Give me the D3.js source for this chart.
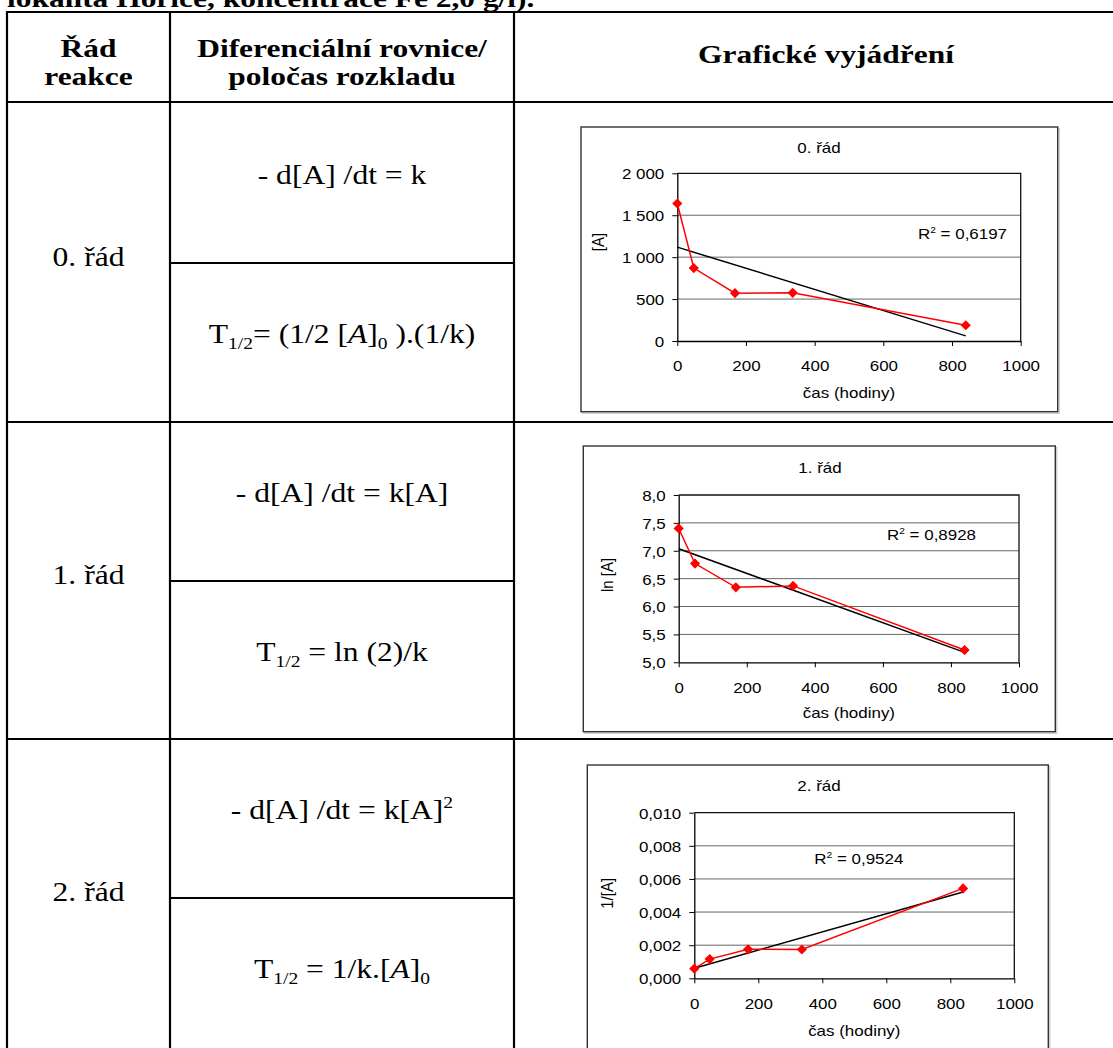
<!DOCTYPE html>
<html>
<head>
<meta charset="utf-8">
<script src="https://cdn.jsdelivr.net/npm/d3@7"></script>
<style>
  html, body { margin: 0; padding: 0; background: #fff; overflow: hidden; }
  text { white-space: pre; }
</style>
</head>
<body>
<svg id="page" width="1113" height="1048"></svg>
<script>
// ---- data -----------------------------------------------------------
const hours = [0, 48, 168, 336, 840];
const concentration = [1640, 870, 570, 575, 188];          // [A]
const lnConcentration = [7.40, 6.77, 6.345, 6.37, 5.22];  // ln [A]
const invConcentration = [0.00058, 0.00116, 0.00175, 0.00174, 0.00543]; // 1/[A]

const xTickValues = [0, 200, 400, 600, 800, 1000];
const xTickLabels = ["0", "200", "400", "600", "800", "1000"];
const yTickValues0 = [0, 500, 1000, 1500, 2000];
const yTickLabels0 = ["0", "500", "1 000", "1 500", "2 000"];
const yTickValues1 = [5.0, 5.5, 6.0, 6.5, 7.0, 7.5, 8.0];
const yTickLabels1 = ["5,0", "5,5", "6,0", "6,5", "7,0", "7,5", "8,0"];
const yTickValues2 = [0, 0.002, 0.004, 0.006, 0.008, 0.010];
const yTickLabels2 = ["0,000", "0,002", "0,004", "0,006", "0,008", "0,010"];

const chartTitles = ["0. řád", "1. řád", "2. řád"];
const yAxisTitles = ["[A]", "ln [A]", "1/[A]"];
const rSquaredValues = ["0,6197", "0,8928", "0,9524"];
const xAxisTitle = "čas (hodiny)";

const orderLabels = ["0. řád", "1. řád", "2. řád"];
const headerLabels = ["Řád", "reakce", "Diferenciální rovnice/", "poločas rozkladu", "Grafické vyjádření"];
const captionTail = "lokalita Hořice, koncentrace Fe 2,0 g/l).";

// ---- page setup --------------------------------------------------------
const svg = d3.select("#page");
const SERIF = "'Liberation Serif', 'Times New Roman', serif";
const SANS = "'Liberation Sans', Arial, sans-serif";
const SX_SERIF = 1.17;   // the document is set slightly wide
const SX_SANS = 1.13;

function wideText(parent, x, y, str, opts) {
  const o = Object.assign({ size: 15, family: SANS, sx: SX_SANS, anchor: "middle", weight: "normal", rotate: 0 }, opts);
  return parent.append("text")
    .attr("transform", `translate(${x},${y}) scale(${o.sx},1)` + (o.rotate ? ` rotate(${o.rotate})` : ""))
    .attr("text-anchor", o.anchor)
    .attr("font-family", o.family)
    .attr("font-size", o.size)
    .attr("font-weight", o.weight)
    .attr("fill", "#000")
    .text(str);
}

// text built from runs (sub/superscripts, italics)
function richText(parent, x, y, runs, size, anchor) {
  const t = parent.append("text")
    .attr("transform", `translate(${x},${y}) scale(${SX_SERIF},1)`)
    .attr("text-anchor", anchor || "middle")
    .attr("font-family", SERIF)
    .attr("font-size", size)
    .attr("fill", "#000");
  let shift = 0;
  runs.forEach(r => {
    const target = r.sub ? size * 0.22 : r.sup ? -size * 0.4 : 0;
    const ts = t.append("tspan").attr("dy", (target - shift).toFixed(2)).text(r.t);
    if (r.sub || r.sup) ts.attr("font-size", (size * 0.62).toFixed(1));
    if (r.it) ts.attr("font-style", "italic");
    shift = target;
  });
  return t;
}

// ---- table grid --------------------------------------------------------
const colX = [7, 170, 514];
const tableTop = 12, headerBottom = 102;
const rowBottoms = [422, 739, 1056];
const rowSplits = [263, 581, 898];
const grid = svg.append("g").attr("stroke", "#000").attr("stroke-width", 2.2);
grid.append("line").attr("x1", colX[0] - 1).attr("x2", 1120).attr("y1", tableTop).attr("y2", tableTop);
grid.append("line").attr("x1", colX[0] - 1).attr("x2", 1120).attr("y1", headerBottom).attr("y2", headerBottom);
rowBottoms.forEach(yb => grid.append("line").attr("x1", colX[0] - 1).attr("x2", 1120).attr("y1", yb).attr("y2", yb));
rowSplits.forEach(ys => grid.append("line").attr("x1", colX[1]).attr("x2", colX[2]).attr("y1", ys).attr("y2", ys));
colX.forEach(xc => grid.append("line").attr("x1", xc).attr("x2", xc).attr("y1", tableTop - 1).attr("y2", 1060));

// caption line running off the top of the page
wideText(svg, 7, 7, captionTail, { family: SERIF, size: 26, sx: 1.21, anchor: "start", weight: "bold" });

// header row
const col1Mid = (colX[0] + colX[1]) / 2, col2Mid = (colX[1] + colX[2]) / 2, col3Mid = 826;
wideText(svg, col1Mid, 57, headerLabels[0], { family: SERIF, size: 26, sx: 1.21, weight: "bold" });
wideText(svg, col1Mid, 85, headerLabels[1], { family: SERIF, size: 26, sx: 1.21, weight: "bold" });
wideText(svg, col2Mid, 57, headerLabels[2], { family: SERIF, size: 26, sx: 1.21, weight: "bold" });
wideText(svg, col2Mid, 85, headerLabels[3], { family: SERIF, size: 26, sx: 1.21, weight: "bold" });
wideText(svg, col3Mid, 63, headerLabels[4], { family: SERIF, size: 26, sx: 1.21, weight: "bold" });

// reaction order labels
orderLabels.forEach((lab, i) => {
  wideText(svg, col1Mid, rowSplits[i] + 3, lab, { family: SERIF, size: 27, sx: SX_SERIF });
});

// rate laws and half-lives
const rateLaws = [
  [{ t: "- d[A] /dt = k" }],
  [{ t: "- d[A] /dt = k[A]" }],
  [{ t: "- d[A] /dt = k[A]" }, { t: "2", sup: true }]
];
const halfLives = [
  [{ t: "T" }, { t: "1/2", sub: true }, { t: "= (1/2 [" }, { t: "A", it: true }, { t: "]" }, { t: "0", sub: true }, { t: " ).(1/k)" }],
  [{ t: "T" }, { t: "1/2", sub: true }, { t: " = ln (2)/k" }],
  [{ t: "T" }, { t: "1/2", sub: true }, { t: " = 1/k.[" }, { t: "A", it: true }, { t: "]" }, { t: "0", sub: true }]
];
rowSplits.forEach((ys, i) => {
  richText(svg, col2Mid, ys - 79, rateLaws[i], 27);
  richText(svg, col2Mid, ys + 80, halfLives[i], 27);
});

// ---- charts ------------------------------------------------------------
const charts = [
  { values: concentration, yDomain: [0, 2000], ticks: yTickValues0, labels: yTickLabels0,
    box: [581, 127, 1057.7, 411.7], plot: [677.3, 173.3, 1020.7, 341],
    title: [819, 148], yTitle: [598, 242], xTitleY: 393, r2: [918, 233.3] },
  { values: lnConcentration, yDomain: [5, 8], ticks: yTickValues1, labels: yTickLabels1,
    box: [583.3, 446, 1055.3, 731.7], plot: [678.7, 495, 1019, 662.3],
    title: [820, 468.3], yTitle: [606.7, 575], xTitleY: 713.3, r2: [887, 535] },
  { values: invConcentration, yDomain: [0, 0.010], ticks: yTickValues2, labels: yTickLabels2,
    box: [587.3, 765, 1048.3, 1068], plot: [694.3, 812.7, 1014.3, 978.3],
    title: [819, 786], yTitle: [606.7, 893.3], xTitleY: 1031.7, r2: [814.3, 858.3] }
];

function linearFit(xs, ys) {
  const mx = d3.mean(xs), my = d3.mean(ys);
  let sxy = 0, sxx = 0;
  xs.forEach((xv, i) => { sxy += (xv - mx) * (ys[i] - my); sxx += (xv - mx) * (xv - mx); });
  const slope = sxy / sxx;
  return { slope, intercept: my - slope * mx };
}

charts.forEach((c, ci) => {
  const g = svg.append("g");
  const [bx0, by0, bx1, by1] = c.box;
  const [px0, py0, px1, py1] = c.plot;

  // chart area
  g.append("rect").attr("x", bx0 + 1.5).attr("y", by0 + 1.5).attr("width", bx1 - bx0).attr("height", by1 - by0)
    .attr("fill", "none").attr("stroke", "#bbb").attr("stroke-width", 1);
  g.append("rect").attr("x", bx0).attr("y", by0).attr("width", bx1 - bx0).attr("height", by1 - by0)
    .attr("fill", "#fff").attr("stroke", "#333").attr("stroke-width", 1.4);

  const x = d3.scaleLinear().domain([0, 1000]).range([px0, px1]);
  const y = d3.scaleLinear().domain(c.yDomain).range([py1, py0]);

  // horizontal gridlines
  g.append("g").selectAll("line").data(c.ticks.slice(1, -1)).join("line")
    .attr("x1", px0).attr("x2", px1).attr("y1", d => y(d)).attr("y2", d => y(d))
    .attr("stroke", "#666").attr("stroke-width", 1);

  // plot frame (top and right)
  g.append("path").attr("d", `M${px0},${py0}H${px1}V${py1}`)
    .attr("fill", "none").attr("stroke", "#111").attr("stroke-width", 1.3);

  // axes
  const yAxis = g.append("g").attr("transform", `translate(${px0},0)`)
    .call(d3.axisLeft(y).tickValues(c.ticks).tickFormat((d, i) => c.labels[i]).tickSize(5).tickSizeOuter(0));
  const xAxis = g.append("g").attr("transform", `translate(0,${py1})`)
    .call(d3.axisBottom(x).tickValues(xTickValues).tickFormat((d, i) => xTickLabels[i]).tickSize(5).tickSizeOuter(0));
  [yAxis, xAxis].forEach(ax => {
    ax.select(".domain").attr("stroke", "#000").attr("stroke-width", 1.3);
    ax.selectAll(".tick line").attr("stroke", "#000").attr("stroke-width", 1);
    ax.selectAll("text").attr("font-family", SANS).attr("font-size", 15).attr("fill", "#000");
  });
  yAxis.attr("font-family", null).attr("font-size", null);
  xAxis.attr("font-family", null).attr("font-size", null);
  yAxis.selectAll(".tick text").attr("x", null).attr("dy", "0.36em")
    .attr("transform", `translate(-13,0) scale(${SX_SANS},1)`);
  xAxis.selectAll(".tick text").attr("y", null).attr("dy", null)
    .attr("transform", `translate(0,30.4) scale(${SX_SANS},1)`);

  // least-squares trend line over the measured range
  const fit = linearFit(hours, c.values);
  const xEnd = d3.max(hours);
  g.append("line")
    .attr("x1", x(0)).attr("y1", y(fit.intercept))
    .attr("x2", x(xEnd)).attr("y2", y(fit.intercept + fit.slope * xEnd))
    .attr("stroke", "#000").attr("stroke-width", 1.5);

  // measured series
  const pts = hours.map((h, i) => [h, c.values[i]]);
  g.append("path").datum(pts)
    .attr("d", d3.line().x(d => x(d[0])).y(d => y(d[1])))
    .attr("fill", "none").attr("stroke", "#ff0000").attr("stroke-width", 1.5);
  const diamond = d3.symbol().type(d3.symbolSquare).size(52);
  g.append("g").selectAll("path").data(pts).join("path")
    .attr("d", diamond)
    .attr("transform", d => `translate(${x(d[0])},${y(d[1])}) rotate(45)`)
    .attr("fill", "#ff0000");

  // titles
  wideText(g, c.title[0], c.title[1] + 5, chartTitles[ci], {});
  wideText(g, (px0 + px1) / 2, c.xTitleY + 4.5, xAxisTitle, {});
  wideText(g, c.yTitle[0], c.yTitle[1], yAxisTitles[ci], { rotate: -90 }).attr("dy", "0.36em");

  // coefficient of determination
  const r = g.append("text")
    .attr("transform", `translate(${c.r2[0]},${c.r2[1] + 5.4}) scale(${SX_SANS},1)`)
    .attr("font-family", SANS).attr("font-size", 15).attr("fill", "#000");
  r.append("tspan").text("R");
  r.append("tspan").attr("font-size", 9).attr("dy", -6).text("2");
  r.append("tspan").attr("dy", 6).text(" = " + rSquaredValues[ci]);
});
</script>
</body>
</html>
